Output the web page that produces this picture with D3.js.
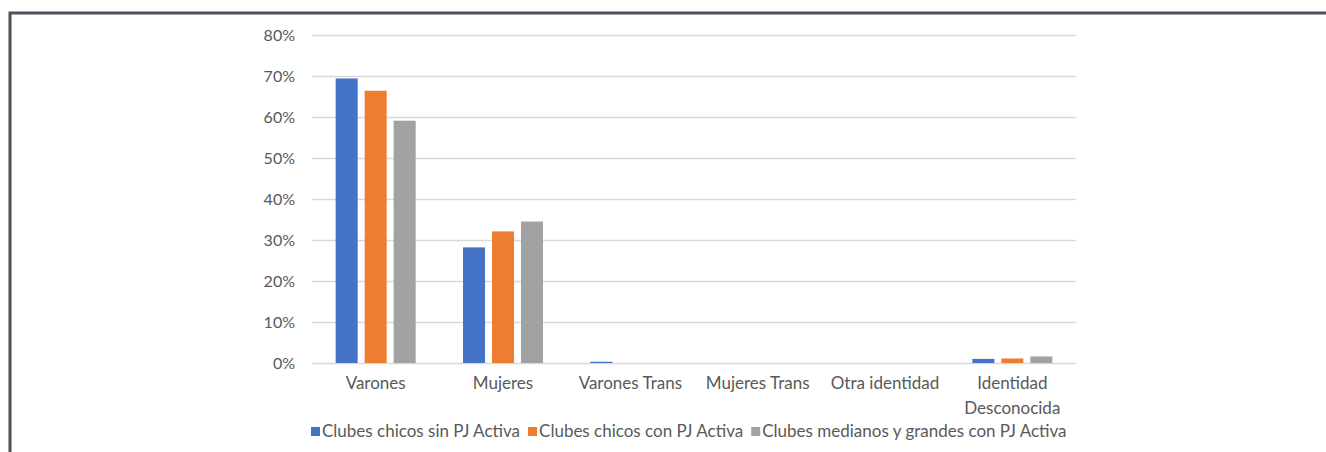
<!DOCTYPE html>
<html>
<head>
<meta charset="utf-8">
<script src="https://cdn.jsdelivr.net/npm/d3@7"></script>
<style>
  body { margin: 0; background: #fff; }
  text { font-family: Lato, "Liberation Sans", sans-serif; fill: #595959; }
</style>
</head>
<body>
<script>
//dims
const width = 1326, height = 452;

//data
const categories = ['Varones', 'Mujeres', 'Varones Trans', 'Mujeres Trans', 'Otra identidad', 'Identidad\nDesconocida'];
const seriesNames = ['Clubes chicos sin PJ Activa', 'Clubes chicos con PJ Activa', 'Clubes medianos y grandes con PJ Activa'];
const sinPJ = [0.694, 0.282, 0.003, 0, 0, 0.010];
const chicosPJ = [0.664, 0.321, 0, 0, 0, 0.011];
const medianosPJ = [0.591, 0.345, 0, 0, 0, 0.016];
const yTicks = [0, 0.1, 0.2, 0.3, 0.4, 0.5, 0.6, 0.7, 0.8];
const colors = ['#4472C4', '#ED7D31', '#A0A2A4'];

const series = [sinPJ, chicosPJ, medianosPJ];

const svg = d3.select('body').append('svg')
  .attr('width', width)
  .attr('height', height);

svg.append('rect').attr('width', width).attr('height', height).attr('fill', '#fff');

//frame (only top and left visible)
svg.append('path')
  .attr('d', 'M10,452 L10,13 L1326,13')
  .attr('fill', 'none')
  .attr('stroke', '#4b5159')
  .attr('stroke-width', 3);

//plot area
const plot = { left: 312, right: 1076, top: 35, bottom: 363 };

const x = d3.scaleBand()
  .domain(categories)
  .range([plot.left, plot.right]);

const xInner = d3.scaleBand()
  .domain(d3.range(series.length))
  .range([0, 80])
  .paddingInner(0.24);

const y = d3.scaleLinear()
  .domain([0, 0.8])
  .range([plot.bottom, plot.top]);

//gridlines + y labels via axis
const yAxis = svg.append('g')
  .attr('transform', `translate(${plot.left},0)`)
  .call(d3.axisLeft(y)
    .tickValues(yTicks)
    .tickFormat(d3.format('.0%'))
    .tickSize(-(plot.right - plot.left))
    .tickPadding(17));
yAxis.select('.domain').remove();
yAxis.selectAll('.tick line')
  .attr('stroke', '#d9d9d9')
  .attr('stroke-width', 1.5);
yAxis.selectAll('.tick text')
  .attr('font-size', 16)
  .attr('fill', '#595959')
  .style('font-family', 'Lato, "Liberation Sans", sans-serif');

//bars
const groups = svg.append('g').selectAll('g')
  .data(categories)
  .enter().append('g')
  .attr('transform', d => `translate(${x(d) + x.bandwidth() / 2 - 40},0)`);

groups.selectAll('rect')
  .data((c, ci) => series.map((s, si) => ({ si, v: s[ci] })))
  .enter().append('rect')
  .attr('x', d => xInner(d.si))
  .attr('width', xInner.bandwidth())
  .attr('y', d => y(d.v))
  .attr('height', d => y(0) - y(d.v))
  .attr('fill', d => colors[d.si]);

//category labels
const catLabels = svg.append('g').selectAll('text')
  .data(categories)
  .enter().append('text')
  .attr('x', d => x(d) + x.bandwidth() / 2)
  .attr('y', 389)
  .attr('text-anchor', 'middle')
  .attr('font-size', 17);
catLabels.each(function(d) {
  const lines = d.split('\n');
  const t = d3.select(this);
  lines.forEach((l, i) => {
    t.append('tspan')
      .attr('x', x(d) + x.bandwidth() / 2)
      .attr('dy', i === 0 ? 0 : 25)
      .text(l);
  });
});

//legend
const legend = svg.append('g');
let lx = 311;
seriesNames.forEach((name, i) => {
  legend.append('rect')
    .attr('x', lx)
    .attr('y', 427)
    .attr('width', 9)
    .attr('height', 9)
    .attr('fill', colors[i]);
  const t = legend.append('text')
    .attr('x', lx + 11)
    .attr('y', 437)
    .attr('font-size', 17)
    .text(name);
  lx += 11 + t.node().getComputedTextLength() + 8;
});
</script>
</body>
</html>
